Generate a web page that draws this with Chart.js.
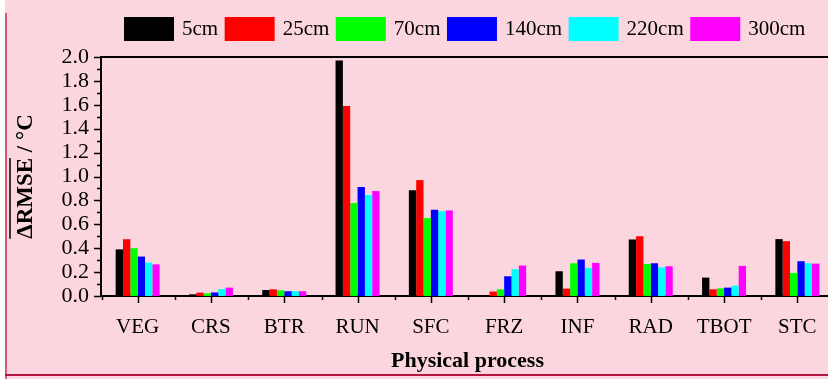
<!DOCTYPE html>
<html>
<head>
<meta charset="utf-8">
<script src="https://cdn.jsdelivr.net/npm/chart.js@4/dist/chart.umd.min.js"></script>
<style>
    html, body { margin: 0; padding: 0; overflow: hidden; background: #fff; }
    #wrap { position: relative; width: 840px; height: 379px; }
</style>
</head>
<body>
<div id="wrap"><canvas id="rmseChart"></canvas></div>
<script>
// دسته‌ها و داده‌ها
const categories = ['VEG', 'CRS', 'BTR', 'RUN', 'SFC', 'FRZ', 'INF', 'RAD', 'TBOT', 'STC'];
const depthLabels = ['5cm', '25cm', '70cm', '140cm', '220cm', '300cm'];
const depthColors = ['#000000', '#ff0000', '#00ff00', '#0000ff', '#00ffff', '#ff00ff'];

const d5   = [0.39, 0.014, 0.05, 1.97, 0.884, 0, 0.207, 0.473, 0.154, 0.476];
const d25  = [0.475, 0.028, 0.056, 1.59, 0.97, 0.037, 0.062, 0.50, 0.056, 0.459];
const d70  = [0.40, 0.022, 0.048, 0.778, 0.652, 0.056, 0.274, 0.268, 0.064, 0.193];
const d140 = [0.33, 0.03, 0.04, 0.912, 0.722, 0.165, 0.305, 0.274, 0.07, 0.291];
const d220 = [0.28, 0.058, 0.04, 0.845, 0.71, 0.224, 0.235, 0.24, 0.087, 0.274];
const d300 = [0.265, 0.07, 0.04, 0.878, 0.716, 0.255, 0.277, 0.249, 0.252, 0.271];
const seriesValues = [d5, d25, d70, d140, d220, d300];

const yMin = 0, yMax = 2.0, yStep = 0.2;
const xTitle = 'Physical process';
const yTitle = 'ΔRMSE / °C';
const yTitleOverlined = 'ΔRMSE';

const FONT = 'Liberation Serif, Times New Roman, serif';
const Y_TITLE_SIZE = 23;

// پس‌زمینه و قاب
const framePlugin = {
    id: 'frame',
    beforeDraw(chart) {
        const c = chart.ctx;
        c.save();
        c.fillStyle = '#ffffff';
        c.fillRect(0, 0, chart.width, chart.height);
        c.fillStyle = 'rgb(252, 214, 222)';
        c.fillRect(5, 0, chart.width - 5, chart.height);
        c.fillStyle = '#d8587a';
        c.fillRect(5, 13, 2, chart.height - 13);
        c.fillStyle = '#b81440';
        c.fillRect(5, 374, chart.width - 5, 2);
        c.restore();
    },
    afterLayout(chart) {
        // جای راهنما مثل تصویر اصلی
        const lg = chart.legend;
        if (lg) {
            lg.left = 117.5;
            lg.right = 1200;
            lg.top = 9.5;
        }
    },
    afterDraw(chart) {
        const c = chart.ctx;
        const area = chart.chartArea;
        const xs = chart.scales.x;
        const ys = chart.scales.y;
        c.save();
        c.strokeStyle = '#000';
        c.lineWidth = 2;
        // خط بالای محدوده
        c.beginPath();
        c.moveTo(area.left, area.top);
        c.lineTo(chart.width, area.top);
        c.stroke();

        // تیک‌های محور y
        c.lineWidth = 1.5;
        for (let i = 0; i <= Math.round((yMax - yMin) / (yStep / 2)); i++) {
            const v = yMin + i * yStep / 2;
            const py = Math.round(ys.getPixelForValue(v)) + 0.5;
            const len = i % 2 === 0 ? 7 : 4;
            c.beginPath();
            c.moveTo(area.left - len, py);
            c.lineTo(area.left, py);
            c.stroke();
        }
        // تیک‌های محور x
        const half = (xs.getPixelForTick(1) - xs.getPixelForTick(0)) / 2;
        for (let i = 0; i < categories.length; i++) {
            const px = Math.round(xs.getPixelForTick(i)) + 0.5;
            c.beginPath();
            c.moveTo(px, area.bottom);
            c.lineTo(px, area.bottom + 7);
            c.stroke();
            const bx = Math.round(px - half) + 0.5;
            c.beginPath();
            c.moveTo(bx, area.bottom);
            c.lineTo(bx, area.bottom + 4);
            c.stroke();
        }

        // خط روی ΔRMSE
        c.font = 'bold ' + Y_TITLE_SIZE + 'px ' + FONT;
        const full = c.measureText(yTitle).width;
        const part = c.measureText(yTitleOverlined).width;
        const cy = (ys.top + ys.bottom) / 2;
        const cx = 26;
        c.lineWidth = 1.5;
        c.beginPath();
        c.moveTo(cx - 16, cy + full / 2);
        c.lineTo(cx - 16, cy + full / 2 - part);
        c.stroke();
        c.restore();
    }
};

const datasets = seriesValues.map((vals, i) => ({
    label: depthLabels[i],
    data: vals,
    backgroundColor: depthColors[i],
    borderWidth: 0,
    categoryPercentage: 0.6,
    barPercentage: 1.0
}));

const ctx = document.getElementById('rmseChart').getContext('2d');
const rmseChart = new Chart(ctx, {
    type: 'bar',
    data: { labels: categories, datasets: datasets },
    options: {
        responsive: true,
        maintainAspectRatio: false,
        animation: false,
        layout: { padding: { top: 17, right: 6, left: 0, bottom: 0 } },
        plugins: {
            legend: {
                position: 'top',
                align: 'start',
                labels: {
                    boxWidth: 45,
                    boxHeight: 19,
                    padding: 9,
                    color: '#000',
                    font: { family: FONT, size: 21 },
                    generateLabels(chart) {
                        const items = Chart.defaults.plugins.legend.labels.generateLabels(chart);
                        return items.map(it => Object.assign(it, { lineWidth: 5, strokeStyle: it.fillStyle }));
                    }
                }
            },
            tooltip: { enabled: false }
        },
        scales: {
            x: {
                grid: { display: false, drawTicks: false },
                border: { display: true, color: '#000', width: 2 },
                ticks: { color: '#000', padding: 19, font: { family: FONT, size: 21 } },
                title: {
                    display: true,
                    text: xTitle,
                    color: '#000',
                    font: { family: FONT, size: 22, weight: 'bold' },
                    padding: { top: 0, bottom: 4 }
                },
                afterFit(s) { s.height = 83; }
            },
            y: {
                min: yMin,
                max: yMax,
                grid: { display: false, drawTicks: false },
                border: { display: true, color: '#000', width: 2 },
                ticks: {
                    stepSize: yStep,
                    autoSkip: false,
                    color: '#000',
                    padding: 12,
                    font: { family: FONT, size: 22 },
                    callback: v => v.toFixed(1)
                },
                title: {
                    display: true,
                    text: yTitle,
                    color: '#000',
                    font: { family: FONT, size: Y_TITLE_SIZE, weight: 'bold' },
                    padding: { top: 12, bottom: 0 }
                },
                afterFit(s) { s.width = 101; }
            }
        }
    },
    plugins: [framePlugin]
});
</script>
</body>
</html>
